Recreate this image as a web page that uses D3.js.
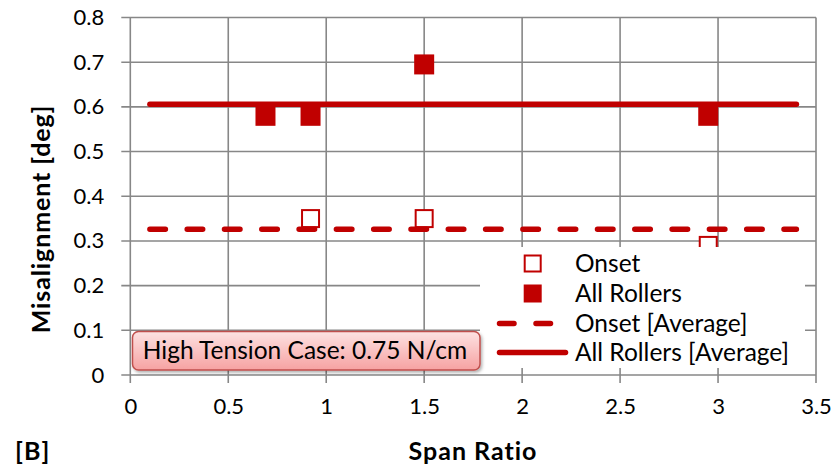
<!DOCTYPE html>
<html>
<head>
<meta charset="utf-8">
<script src="https://cdn.jsdelivr.net/npm/d3@7"></script>
<style>
  html, body { margin: 0; padding: 0; background: #fff; }
  svg { display: block; font-family: Lato, "Open Sans", sans-serif; }
</style>
</head>
<body>
<svg id="chart" width="836" height="466"></svg>
<script>
// Misalignment measurements vs span ratio (high tension case)
const onsetX = [0.92, 1.5, 2.95];
const onsetY = [0.35, 0.35, 0.29];
const allRollersX = [0.69, 0.92, 1.5, 2.95];
const allRollersY = [0.58, 0.58, 0.695, 0.58];
const averageSpan = [0.1, 3.4];
const onsetAverage = 0.326;
const allRollersAverage = 0.606;
const xTicks = [0, 0.5, 1, 1.5, 2, 2.5, 3, 3.5];
const yTicks = [0, 0.1, 0.2, 0.3, 0.4, 0.5, 0.6, 0.7, 0.8];
const legendLabels = ["Onset", "All Rollers", "Onset [Average]", "All Rollers [Average]"];
const noteText = "High Tension Case: 0.75 N/cm";

const RED = "#C00000";
const GRID = "#878787";

const svg = d3.select("#chart");
const x = d3.scaleLinear().domain([0, 3.5]).range([130.3, 816]);
const y = d3.scaleLinear().domain([0, 0.8]).range([375, 17.5]);

// defs: gradient + shadow for the note box
const defs = svg.append("defs");
const grad = defs.append("linearGradient").attr("id", "noteFill")
  .attr("x1", 0).attr("y1", 0).attr("x2", 0).attr("y2", 1);
grad.append("stop").attr("offset", "0%").attr("stop-color", "#fde2e2");
grad.append("stop").attr("offset", "100%").attr("stop-color", "#f6a2a2");
const shadow = defs.append("filter").attr("id", "noteShadow")
  .attr("x", "-10%").attr("y", "-30%").attr("width", "120%").attr("height", "170%");
shadow.append("feDropShadow").attr("dx", 1.5).attr("dy", 2).attr("stdDeviation", 1.5)
  .attr("flood-color", "#000").attr("flood-opacity", 0.3);

// gridlines
const grid = svg.append("g");
grid.selectAll("line.h").data(yTicks).join("line")
  .attr("x1", x(0) - 9).attr("x2", x(3.5))
  .attr("y1", d => y(d)).attr("y2", d => y(d))
  .attr("stroke", GRID).attr("stroke-width", 1.6);
grid.selectAll("line.v").data(xTicks).join("line")
  .attr("x1", d => x(d)).attr("x2", d => x(d))
  .attr("y1", y(0.8)).attr("y2", y(0) + 8)
  .attr("stroke", GRID).attr("stroke-width", 1.6);

// axis tick labels via d3 axes (domain/tick lines hidden)
const yAxis = svg.append("g").attr("transform", `translate(${x(0)},0)`)
  .call(d3.axisLeft(y).tickValues(yTicks).tickFormat(d3.format("")).tickSize(0).tickPadding(26));
const xAxis = svg.append("g").attr("transform", `translate(0,${y(0)})`)
  .call(d3.axisBottom(x).tickValues(xTicks).tickFormat(d3.format("")).tickSize(0).tickPadding(23));
[yAxis, xAxis].forEach(a => {
  a.select(".domain").remove();
  a.selectAll("text").attr("font-size", 22).attr("fill", "#000")
    .attr("font-family", "Lato, sans-serif");
});

// All Rollers markers (filled squares)
const S = 20;
svg.append("g").selectAll("rect").data(allRollersX.map((d, i) => [d, allRollersY[i]])).join("rect")
  .attr("x", d => x(d[0]) - S / 2).attr("y", d => y(d[1]) - S / 2)
  .attr("width", S).attr("height", S).attr("fill", RED);

// Onset markers (open squares)
const So = 17;
svg.append("g").selectAll("rect").data(onsetX.map((d, i) => [d, onsetY[i]])).join("rect")
  .attr("x", d => x(d[0]) - So / 2).attr("y", d => y(d[1]) - So / 2)
  .attr("width", So).attr("height", So)
  .attr("fill", "#fff").attr("stroke", RED).attr("stroke-width", 2);

// average lines
const line = d3.line().x(d => x(d[0])).y(d => y(d[1]));
svg.append("path").datum(averageSpan.map(d => [d, onsetAverage])).attr("d", line)
  .attr("fill", "none").attr("stroke", RED).attr("stroke-width", 5.5)
  .attr("stroke-linecap", "round").attr("stroke-dasharray", "15.5,21.8");
svg.append("path").datum(averageSpan.map(d => [d, allRollersAverage])).attr("d", line)
  .attr("fill", "none").attr("stroke", RED).attr("stroke-width", 5.5)
  .attr("stroke-linecap", "round");

// legend
const lg = svg.append("g");
lg.append("rect").attr("x", 480).attr("y", 247).attr("width", 325).attr("height", 121).attr("fill", "#fff");
const rows = [263.5, 293.5, 323.5, 352.5];
lg.append("rect").attr("x", 532.7 - 8).attr("y", rows[0] - 8).attr("width", 16).attr("height", 16)
  .attr("fill", "#fff").attr("stroke", RED).attr("stroke-width", 2);
lg.append("rect").attr("x", 532.7 - 9).attr("y", rows[1] - 9).attr("width", 18).attr("height", 18)
  .attr("fill", RED);
lg.append("line").attr("x1", 499.5).attr("x2", 551.5).attr("y1", rows[2]).attr("y2", rows[2])
  .attr("stroke", RED).attr("stroke-width", 5.5).attr("stroke-linecap", "round")
  .attr("stroke-dasharray", "14.5,22");
lg.append("line").attr("x1", 499.5).attr("x2", 565.5).attr("y1", rows[3]).attr("y2", rows[3])
  .attr("stroke", RED).attr("stroke-width", 5.5).attr("stroke-linecap", "round");
lg.selectAll("text").data(legendLabels).join("text")
  .attr("x", 575).attr("y", (d, i) => rows[i]).attr("dy", "0.35em")
  .attr("font-size", 24.5).attr("fill", "#000").text(d => d);

// note box
const note = svg.append("g");
note.append("rect").attr("x", 132.5).attr("y", 331.5).attr("width", 347.5).attr("height", 38.5)
  .attr("rx", 6).attr("fill", "url(#noteFill)").attr("stroke", "#c0504d").attr("stroke-width", 1.5)
  .attr("filter", "url(#noteShadow)");
note.append("text").attr("x", 305).attr("y", 359).attr("text-anchor", "middle")
  .attr("font-size", 24.5).attr("fill", "#000").text(noteText);

// axis titles
svg.append("text").attr("x", 473).attr("y", 460).attr("text-anchor", "middle")
  .attr("font-size", 25).attr("letter-spacing", 1).attr("font-weight", "bold").text("Span Ratio");
svg.append("text").attr("transform", "translate(50,219) rotate(-90)").attr("text-anchor", "middle")
  .attr("font-size", 25).attr("letter-spacing", 0.9).attr("font-weight", "bold").text("Misalignment [deg]");
svg.append("text").attr("x", 15).attr("y", 460)
  .attr("font-size", 25).attr("letter-spacing", 1.2).attr("font-weight", "bold").text("[B]");
</script>
</body>
</html>
